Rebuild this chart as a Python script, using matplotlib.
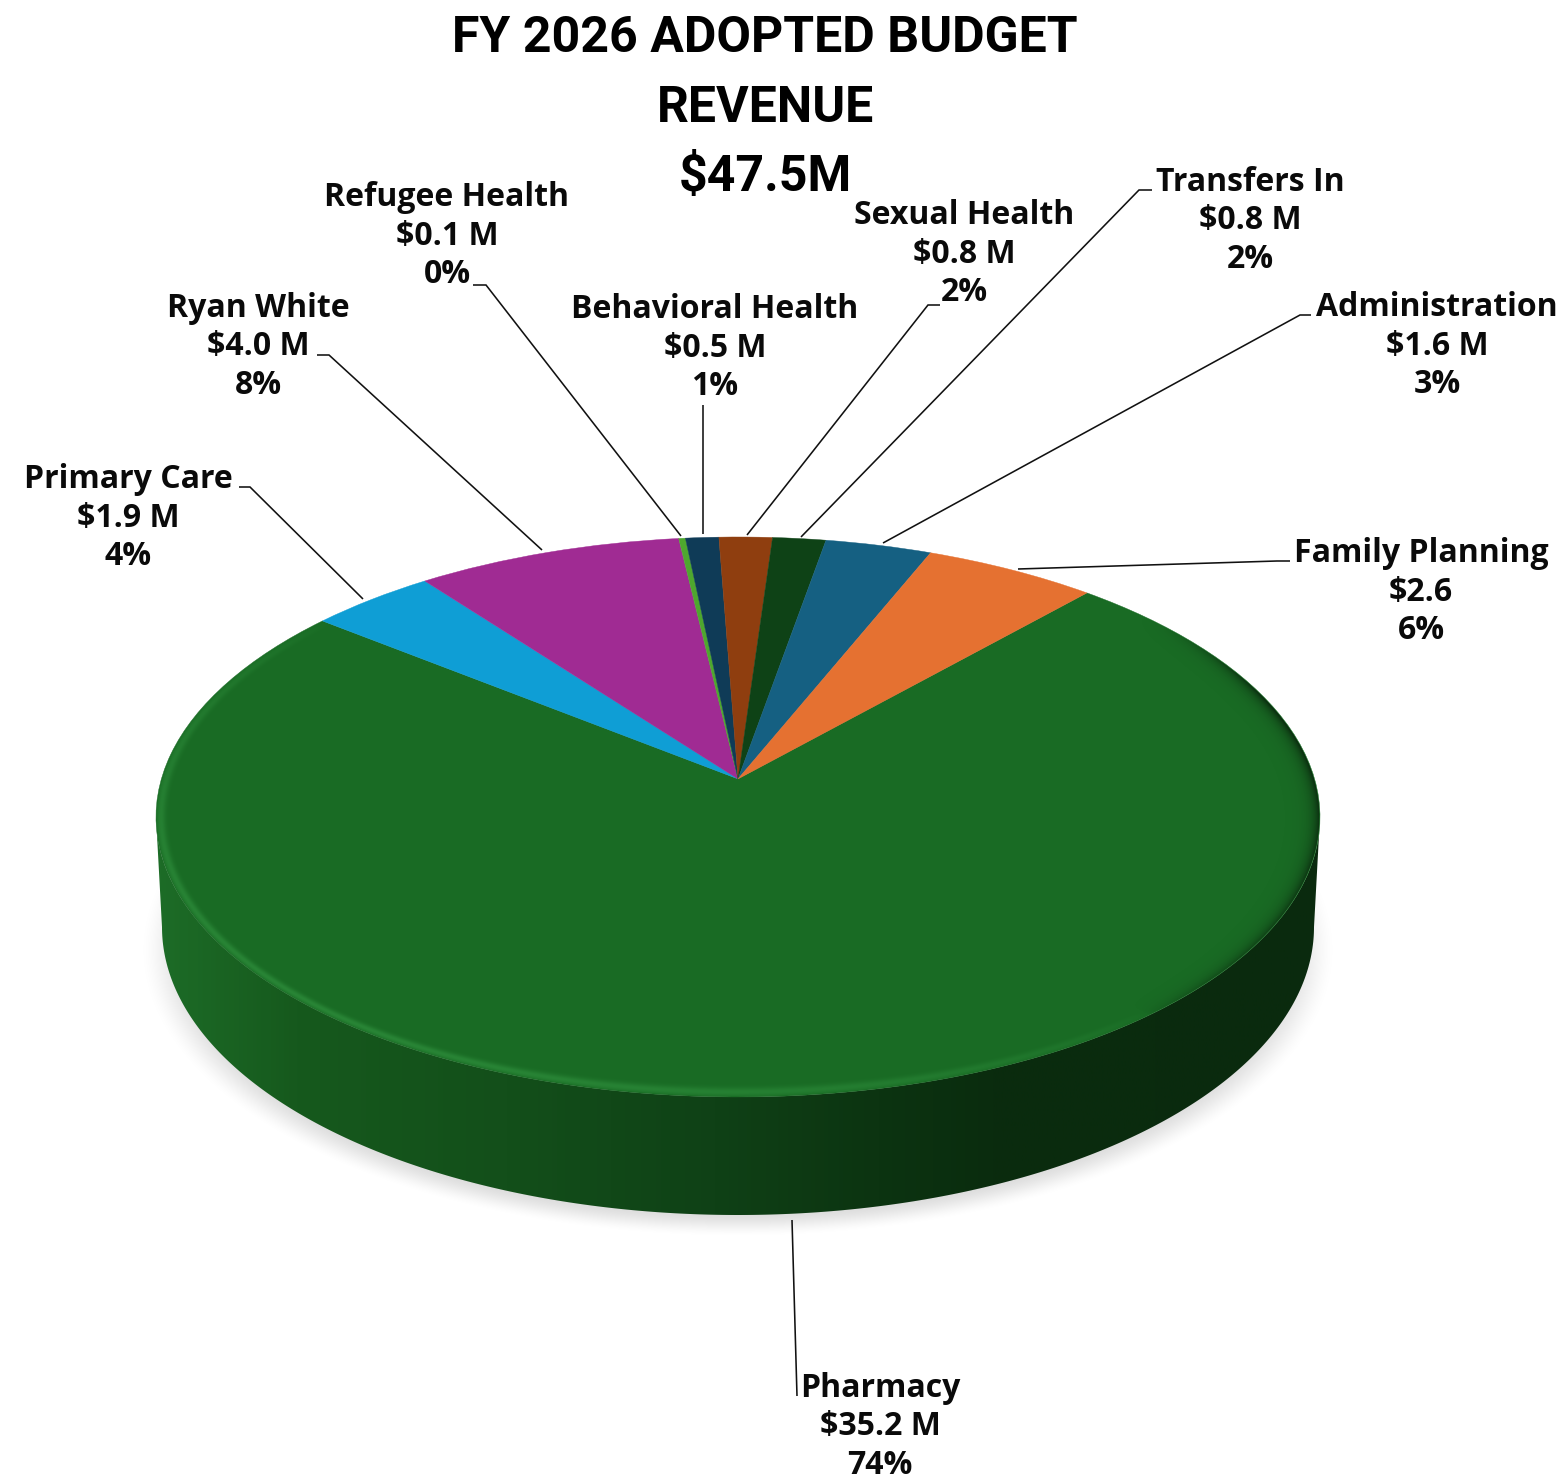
import numpy as np
import matplotlib
matplotlib.use('Agg')
import matplotlib.pyplot as plt
from matplotlib.colors import LinearSegmentedColormap
from matplotlib.patches import Polygon
from matplotlib.transforms import Transform

W, H = 1564, 1484

names = ['Pharmacy', 'Primary Care', 'Ryan White', 'Refugee Health', 'Behavioral Health',
         'Sexual Health', 'Transfers In', 'Administration', 'Family Planning']
revenue = [35.2, 1.9, 4.0, 0.1, 0.5, 0.8, 0.8, 1.6, 2.6]
amount_labels = ['$35.2 M', '$1.9 M', '$4.0 M', '$0.1 M', '$0.5 M', '$0.8 M', '$0.8 M', '$1.6 M', '$2.6']
pct_labels = ['74%', '4%', '8%', '0%', '1%', '2%', '2%', '3%', '6%']
colors = ['#196b24', '#0f9ed5', '#a02b93', '#4ea72e', '#0f3b57', '#8f3e0f', '#0e4216', '#156082', '#e57131']

label_x = [880, 128, 258, 447, 715, 964, 1250, 1437, 1421]
label_y = [1427, 518, 347, 236, 348, 254, 221, 346, 592]

leaders = [
    [(792, 1220), (797, 1396)],
    [(239, 487), (250, 487), (363, 599)],
    [(317, 355), (329, 355), (542, 550)],
    [(473, 285), (486, 285), (681, 536)],
    [(703, 405), (703, 534)],
    [(940, 305), (928, 305), (747, 535)],
    [(1152, 190), (1139, 190), (801, 537)],
    [(1311, 315), (1300, 315), (883, 543)],
    [(1290, 561), (1277, 561), (1018, 569)],
]

# top face ellipse and bottom rim of the disc, in pixels
cx, cy, rx, ry = 738.0, 817.0, 582.0, 280.0
bx, by, brx, bry = 738.0, 927.0, 576.0, 288.0
tilt = 0.136
start_angle = 48.2


class DiscToScreen(Transform):
    # perspective view of the unit disc, the hub lands above the ellipse centre
    input_dims = 2
    output_dims = 2
    is_affine = False

    def transform_non_affine(self, values):
        x, y = np.asarray(values).T
        d = 1 + tilt * y
        px = cx + rx * x * np.sqrt(1 - tilt ** 2) / d
        py = cy - ry * (y + tilt) / d
        return np.column_stack([px, py])


def smooth(t):
    t = np.clip(t, 0, 1)
    return t * t * (3 - 2 * t)


fig = plt.figure(figsize=(W / 100, H / 100), dpi=100)
ax = fig.add_axes([0, 0, 1, 1])

wedges, _ = ax.pie(revenue, colors=colors, startangle=start_angle, counterclock=False, radius=1)
to_screen = DiscToScreen() + ax.transData
for w in wedges:
    w.set_transform(to_screen)
    w.set_edgecolor(w.get_facecolor())
    w.set_linewidth(0.3)
    w.set_zorder(4)

ax.set_aspect('auto')
ax.set_xlim(0, W)
ax.set_ylim(H, 0)
ax.axis('off')

xx, yy = np.meshgrid(np.arange(W) + 0.5, np.arange(H) + 0.5)

# soft shadow under the disc
sr = np.hypot((xx - 738) / 600, (yy - 950) / 288)
shadow = np.zeros((H, W, 4))
shadow[..., 3] = 0.14 * smooth((1 - sr) * 288 / 26)
ax.imshow(shadow, extent=(0, W, H, 0), zorder=1, aspect='auto')

# side wall, shaded from left to right
theta = np.linspace(np.pi, 2 * np.pi, 300)
wall_low = np.column_stack([bx + brx * np.cos(theta), by - bry * np.sin(theta)])
wall_high = np.column_stack([cx + rx * np.cos(theta[::-1]), cy - ry * np.sin(theta[::-1])])
wall_clip = Polygon(np.vstack([wall_low, wall_high]), closed=True, transform=ax.transData,
                    facecolor='none', edgecolor='none')
ax.add_patch(wall_clip)
wall_cmap = LinearSegmentedColormap.from_list('wall', [
    (0.0, '#1d6c27'), (0.12, '#16591d'), (0.30, '#134f1a'), (0.48, '#0f4116'),
    (0.62, '#0c3411'), (0.72, '#0a2c0e'), (1.0, '#0a2a0e')])
grad = np.linspace(0, 1, 800).reshape(1, -1)
wall = ax.imshow(grad, cmap=wall_cmap, extent=(cx - rx, cx + rx, 1230, cy - 60), zorder=2, aspect='auto')
wall.set_clip_path(wall_clip)

# light and dark bevel running round the edge of the top face
ex = (xx - cx) / rx
ey = (cy - yy) / ry
er = np.hypot(ex, ey)
phi = np.arctan2(ey, ex)
scale = np.hypot(rx * np.cos(phi), ry * np.sin(phi))
depth = (1 - er) * scale
inside = smooth(depth / 1.2)
lit = np.cos(phi - np.radians(225))
light = np.clip(lit, 0, 1) ** 0.6 * np.exp(-((depth - 5.0) / 4.5) ** 2)
dark = np.clip(-lit, 0, 1) ** 0.5 * np.exp(-np.clip(depth - 1, 0, None) / 7.0)
dark = dark * smooth((np.radians(47) - np.abs(phi + np.radians(30)) + np.radians(30)) / np.radians(25))
rim = np.zeros((H, W, 4))
rim[..., 0] = 0.22 * (light > dark)
rim[..., 1] = 0.62 * (light > dark)
rim[..., 2] = 0.28 * (light > dark)
rim[..., 3] = np.maximum(0.5 * light, 0.62 * dark) * inside
ax.imshow(rim, extent=(0, W, H, 0), zorder=5, aspect='auto')

ax.set_xlim(0, W)
ax.set_ylim(H, 0)

for pts in leaders:
    xs, ys = zip(*pts)
    ax.plot(xs, ys, color='#111111', lw=1.15, zorder=6, solid_capstyle='butt', solid_joinstyle='miter')

for name, amt, pct, x, y in zip(names, amount_labels, pct_labels, label_x, label_y):
    ax.text(x, y, f'{name}\n{amt}\n{pct}', ha='center', va='center', fontsize=23, fontweight='bold',
            family='Open Sans', color='#0a0a0a', linespacing=1.22, zorder=7)

ax.text(765, 38, 'FY 2026 ADOPTED BUDGET', ha='center', va='center', fontsize=36, fontweight='bold',
        family='Roboto', color='black', zorder=7)
ax.text(765, 108, 'REVENUE', ha='center', va='center', fontsize=36, fontweight='bold',
        family='Roboto', color='black', zorder=7)
ax.text(765, 178, '$47.5M', ha='center', va='center', fontsize=36, fontweight='bold',
        family='Roboto', color='black', zorder=7)

fig.savefig('out.png', dpi=100, facecolor='white')
